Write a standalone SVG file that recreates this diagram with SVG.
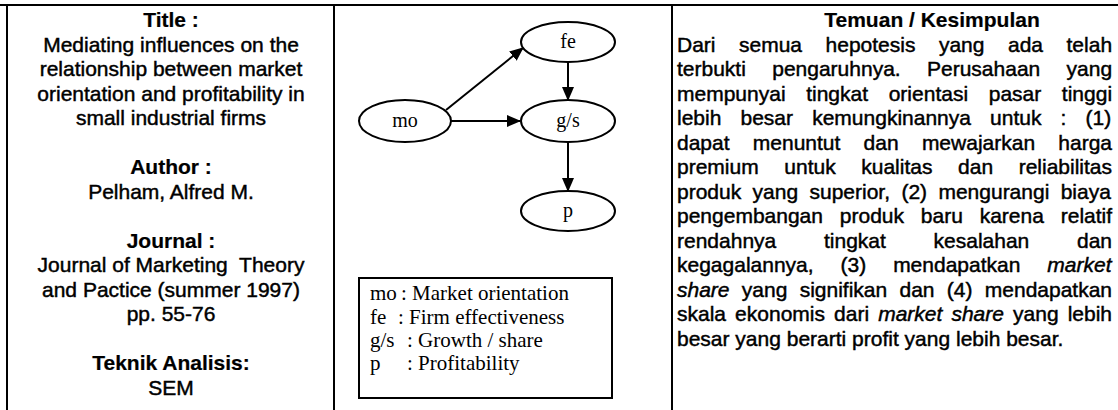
<svg xmlns="http://www.w3.org/2000/svg" width="1118" height="410" viewBox="0 0 1118 410">
  <style>
    .rule { stroke: #000; stroke-width: 2; fill: none; }
    .sans { font-family: 'Liberation Sans', Arial, sans-serif; font-size: 21px; fill: #000; stroke: #000; stroke-width: 0.45; }
    .head { font-weight: bold; stroke-width: 0.2; }
    .mid { text-anchor: middle; }
    .serif { font-family: 'Liberation Serif', 'Times New Roman', serif; font-size: 21px; fill: #000; }
    .node ellipse { fill: #fff; stroke: #000; stroke-width: 2; }
    .node text { font-family: 'Liberation Serif', 'Times New Roman', serif; font-size: 20px; text-anchor: middle; fill: #000; }
    .link { stroke: #000; stroke-width: 2; fill: none; marker-end: url(#arrow); }
    .it { font-style: italic; }
  </style>
  <defs>
    <marker id="arrow" markerUnits="userSpaceOnUse" markerWidth="14" markerHeight="12" refX="13" refY="6" orient="auto">
      <path d="M0,0 L14,6 L0,12 z" fill="#000"/>
    </marker>
  </defs>

  <rect width="1118" height="410" fill="#fff"/>

  <!-- table rules -->
  <g id="table-rules">
    <line class="rule" x1="0" y1="5" x2="1118" y2="5"/>
    <line class="rule" x1="7" y1="5" x2="7" y2="410"/>
    <line class="rule" x1="334" y1="5" x2="334" y2="410"/>
    <line class="rule" x1="672" y1="5" x2="672" y2="410"/>
  </g>

  <!-- left column: bibliographic details -->
  <g id="panel-info" class="sans mid">
    <text x="171" y="27" class="head">Title :</text>
    <text x="171" y="51.5">Mediating influences on the</text>
    <text x="171" y="76">relationship between market</text>
    <text x="171" y="100.5">orientation and profitability in</text>
    <text x="171" y="125">small industrial firms</text>
    <text x="171" y="174" class="head">Author :</text>
    <text x="171" y="198.5">Pelham, Alfred M.</text>
    <text x="171" y="247.5" class="head">Journal :</text>
    <text x="171" y="272" xml:space="preserve">Journal of Marketing  Theory</text>
    <text x="171" y="296.5">and Pactice (summer 1997)</text>
    <text x="171" y="321">pp. 55-76</text>
    <text x="171" y="370" class="head">Teknik Analisis:</text>
    <text x="171" y="394.5">SEM</text>
  </g>

  <!-- middle column: path model -->
  <g id="connectors">
    <line class="link" x1="446" y1="110" x2="523" y2="48"/>
    <line class="link" x1="451" y1="121" x2="520" y2="121"/>
    <line class="link" x1="568" y1="62" x2="568" y2="100"/>
    <line class="link" x1="568" y1="142" x2="568" y2="191"/>
  </g>
  <g id="node-mo" class="node">
    <ellipse cx="405" cy="121" rx="46" ry="21"/>
    <text x="405" y="127">mo</text>
  </g>
  <g id="node-fe" class="node">
    <ellipse cx="568" cy="42" rx="47" ry="20"/>
    <text x="568" y="48">fe</text>
  </g>
  <g id="node-gs" class="node">
    <ellipse cx="568" cy="121" rx="47" ry="21"/>
    <text x="568" y="127">g/s</text>
  </g>
  <g id="node-p" class="node">
    <ellipse cx="568" cy="211" rx="47" ry="20"/>
    <text x="568" y="217">p</text>
  </g>

  <g id="legend" class="serif">
    <rect class="rule" x="359" y="278" width="253" height="120"/>
    <text y="300"><tspan x="370">mo</tspan><tspan x="401">: Market orientation</tspan></text>
    <text y="324"><tspan x="370">fe</tspan><tspan x="398">: Firm effectiveness</tspan></text>
    <text y="347"><tspan x="370">g/s</tspan><tspan x="407">: Growth / share</tspan></text>
    <text y="370"><tspan x="370">p</tspan><tspan x="407">: Profitability</tspan></text>
  </g>

  <!-- right column: findings, justified -->
  <g id="panel-findings" class="sans">
    <text x="932" y="27" class="head mid">Temuan / Kesimpulan</text>
    <text x="677" y="51.5" word-spacing="17.67">Dari semua hepotesis yang ada telah</text>
    <text x="677" y="76" word-spacing="20.51">terbukti pengaruhnya. Perusahaan yang</text>
    <text x="677" y="100.5" word-spacing="14.8">mempunyai tingkat orientasi pasar tinggi</text>
    <text x="677" y="125" word-spacing="13.3">lebih besar kemungkinannya untuk : (1)</text>
    <text x="677" y="149.5" word-spacing="17.41">dapat menuntut dan mewajarkan harga</text>
    <text x="677" y="174" word-spacing="19.76">premium untuk kualitas dan reliabilitas</text>
    <text x="677" y="198.5" word-spacing="5.53">produk yang superior, (2) mengurangi biaya</text>
    <text x="677" y="223" word-spacing="10.99">pengembangan produk baru karena relatif</text>
    <text x="677" y="247.5" word-spacing="41.88">rendahnya tingkat kesalahan dan</text>
    <text x="677" y="272" word-spacing="21.09">kegagalannya, (3) mendapatkan <tspan class="it">market</tspan></text>
    <text x="677" y="296.5" word-spacing="6.46"><tspan class="it">share</tspan> yang signifikan dan (4) mendapatkan</text>
    <text x="677" y="321" word-spacing="3.25">skala ekonomis dari <tspan class="it">market share</tspan> yang lebih</text>
    <text x="677" y="345.5">besar yang berarti profit yang lebih besar.</text>
  </g>
</svg>
